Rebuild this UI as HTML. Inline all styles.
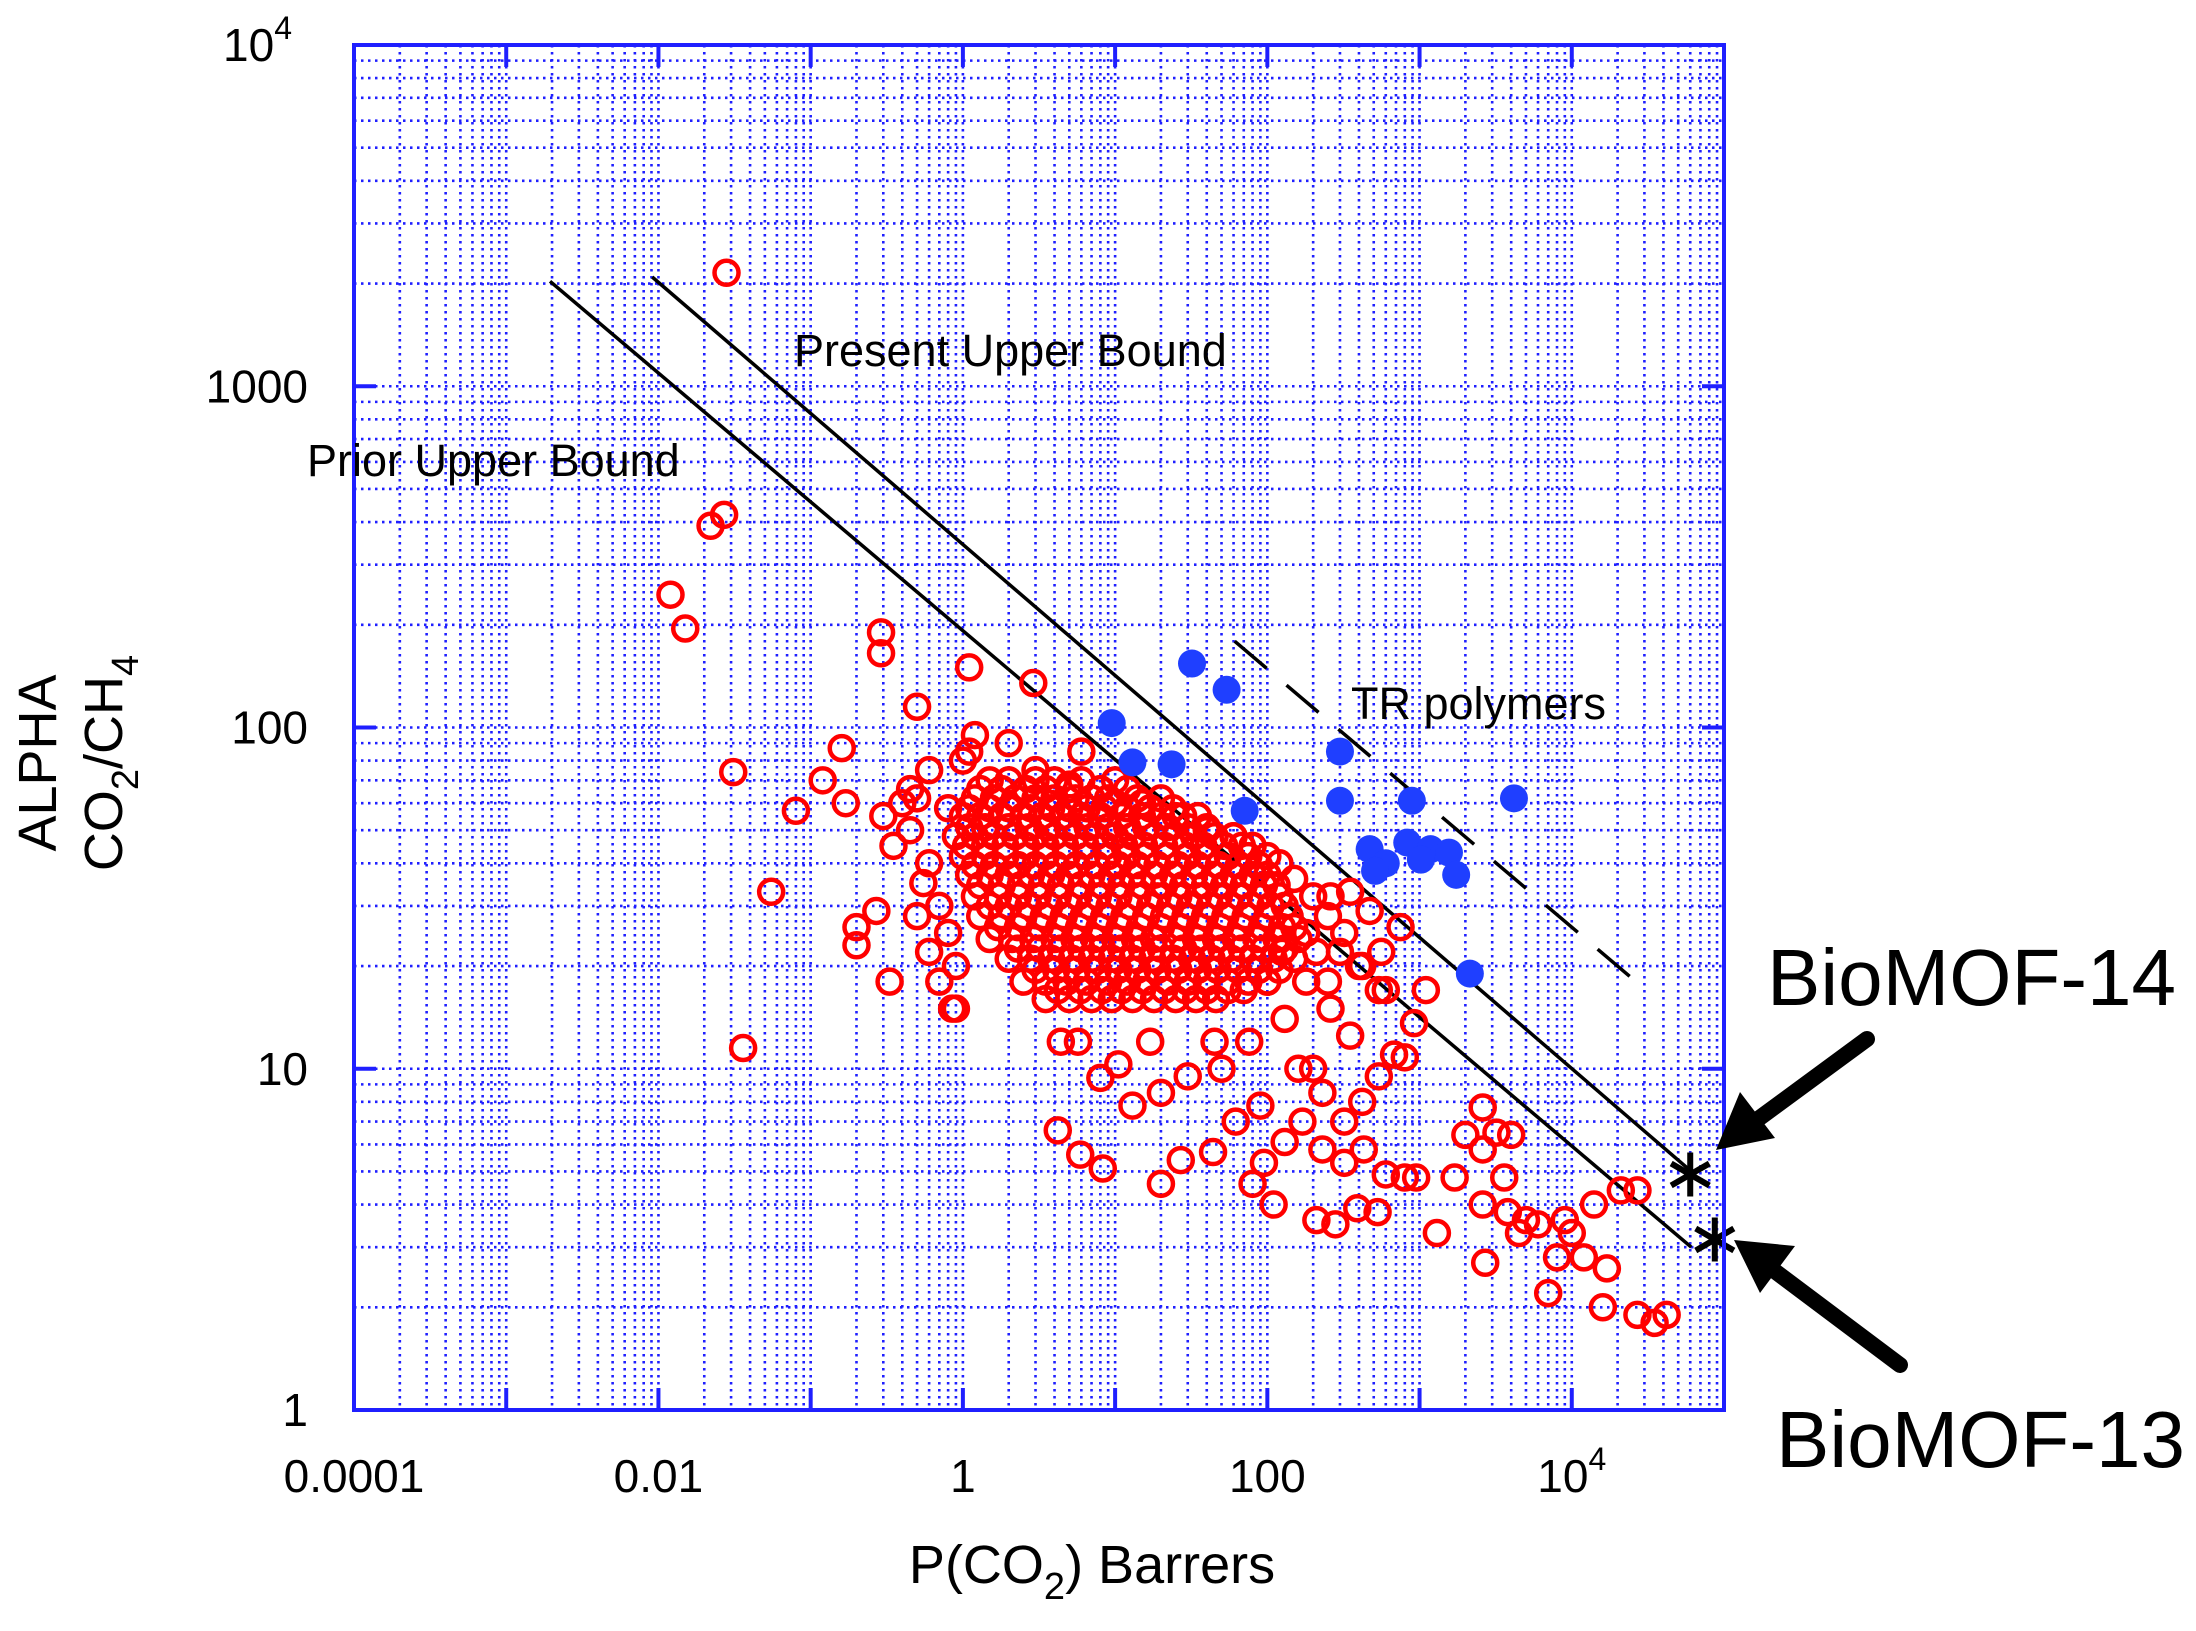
<!DOCTYPE html>
<html><head><meta charset="utf-8"><style>
html,body{margin:0;padding:0;background:#fff;}
svg{display:block;font-family:"Liberation Sans",sans-serif;}
</style></head><body>
<svg id="chart" width="2196" height="1631" viewBox="0 0 2196 1631">
<g id="grid"></g>
<g id="lines"></g>
<g id="red"></g>
<g id="blue"></g>
<g id="stars"></g>
<g id="axes"></g>
</svg>
<script>
const xTicks=[0.0001,0.01,1,100,10000];
const xTickLabels=["0.0001","0.01","1","100","10^4"];
const yTicks=[1,10,100,1000,10000];
const yTickLabels=["1","10","100","1000","10^4"];
const priorBoundX=[0.00194,61000];
const priorBoundY=[2030,3.0];
const presentBoundX=[0.0091,61000];
const presentBoundY=[2090,5.0];
const trBoundX=[61,26000];
const trBoundY=[179,18.1];
const blueX=[32,54,9.5,23.5,13,71,300,300,890,4170,470,600,510,830,1180,1560,1740,1020,2140];
const blueY=[154,129,103,78,79,57,85,61,61,62,44,40,38,46,44,43,37,41,19];
const starX=[60000,87000];
const starY=[4.9,3.16];
const redRows=[
[70,[1.5,2,3,4,6,10]],
[66,[1.3,1.8,2.6,3.5,5,8,12]],
[62,[1.2,1.6,2.2,3,4,5.5,7,9,14,20]],
[58,[1.1,1.5,2,2.8,3.8,5,6.5,8.5,12,17,24]],
[55,[1,1.3,1.8,2.5,3.3,4.5,6,8,11,15,20,28,35]],
[51,[1.1,1.4,2,2.7,3.6,4.9,6.6,9,12,16,22,30,40]],
[48,[0.9,1.2,1.6,2.2,3,4,5.5,7.5,10,13,18,25,33,45,60]],
[45,[1.05,1.4,1.9,2.6,3.5,4.7,6.4,8.7,11.5,15.5,21,29,38,52,68]],
[42,[1,1.4,1.9,2.6,3.5,4.8,6.5,9,12,16,22,30,40,55,75]],
[39.5,[1.2,1.6,2.3,3,4.1,5.6,7.6,10.5,14,19,26,35,48,65,88]],
[37,[1.1,1.5,2,2.8,3.8,5,7,9.5,13,18,24,33,45,60,80,100]],
[34.5,[1.3,1.8,2.4,3.3,4.4,6,8.2,11,15,21,28,39,52,70,95,115]],
[32,[1.2,1.7,2.3,3.1,4.2,5.7,7.7,10.5,14,19,26,35,48,65,90,120]],
[30,[1.5,2,2.7,3.7,5,6.8,9.2,12.5,17,23,31,42,57,78,105,130]],
[28,[1.3,1.8,2.5,3.4,4.6,6.2,8.5,11.5,16,21,29,39,53,72,100,140]],
[26,[1.7,2.3,3.2,4.3,5.8,7.9,10.7,14.5,20,27,36,49,67,92,125,150]],
[24,[1.5,2.1,2.9,4,5.4,7.3,10,13.5,18,25,34,46,62,85,115,160]],
[22.5,[2.3,3.2,4.4,6,8.2,11,15,20,28,37,50,68,95,130]],
[21,[2,2.8,3.8,5.2,7,9.5,13,17.5,24,32,43,58,80,110,150]],
[19.5,[3,4.1,5.6,7.7,10.5,14,19,26,35,47,64,88,120]],
[18,[2.5,3.5,4.8,6.5,9,12,16,22,30,40,55,75,100]],
[17,[4.2,5.9,8.2,11,15,21,29,40,55,70]],
[16,[3.5,5,7,9.5,13,18,25,34,46]]
];
const redX=[0.028,0.027,0.022,0.012,0.015,0.031,0.036,0.055,0.08,0.12,0.16,0.17,0.2,0.2,0.27,0.29,0.29,0.33,0.5,1.1,2.9,0.85,
4.4,4.2,5.9,8.3,20,27,44,80,110,210,280,390,530,1300,1700,2600,3600,2700,4500,6000,8000,7000,12000,17000,16000,27000,35000,42000,14000,21000,27000,2600,3800,5000,9000,10000,2600,2000,3200,4000,
100,130,200,230,320,420,540,680,800,350,260,180,125,210,320,420,540,920,1100,170,130,95,230,320,430,600,800,950,160,90,62,50,30,20,13,10.5,8,5.7,17,45,76,
260,350,470,560,750,
0.3,0.35,0.4,0.45,0.5,0.6,0.55,0.7,0.8,0.6,0.7,0.9,0.5,0.6,0.8,1,1.2,1.1,2,0.9,0.45,
3,5,6,10,15,25,40,60,80,100,120,150,200,250,180,300,400,600,250];
const redY=[2150,420,390,245,195,74,11.5,33,57,70,87,60,26,23,29,190,165,18,115,150,135,15,
12,6.6,5.6,5.1,4.6,5.4,5.7,4.6,4.0,3.6,3.5,3.9,3.8,3.3,4.8,5.8,4.8,2.7,3.3,3.5,2.8,2.2,2.8,2.6,2.0,1.9,1.8,1.9,4,4.4,4.4,4,3.8,3.6,3.6,3.3,7.7,6.4,6.5,6.4,
18,14,10,8.5,7,8,9.5,11,10.8,12.5,15,18,22,22,25,20,17,13.6,17,7.0,6.1,5.3,5.8,5.3,5.8,4.9,4.8,4.8,10,7.8,7,10,9.5,8.5,7.8,10.3,9.4,12,12,12,12,
32,33,29,22,26,
55,45,60,50,62,40,35,30,25,22,18,20,28,75,58,80,95,85,90,15,66,
75,68,85,60,60,55,50,48,45,42,40,36,32,28,25,22,20,17,18];

const L=354,R=1724,T=45,B=1410;
function sx(v){return L+(Math.log10(v)+4)*(R-L)/9;}
function sy(v){return B-Math.log10(v)*(B-T)/4;}
const NS="http://www.w3.org/2000/svg";
function mk(tag,attrs,parent){const e=document.createElementNS(NS,tag);for(const k in attrs)e.setAttribute(k,attrs[k]);parent.appendChild(e);return e;}
const grid=document.getElementById('grid');
for(let d=-4;d<5;d++){for(let k=1;k<10;k++){const v=k*Math.pow(10,d);if(k===1&&d===-4)continue;const x=sx(v);
const ln=mk('line',{x1:x,y1:T,x2:x,y2:B,stroke:'#1f1fff','stroke-width':2.6,'stroke-dasharray':'2.5 4.5'},grid);

}}
for(let d=0;d<4;d++){for(let k=1;k<10;k++){const v=k*Math.pow(10,d);if(k===1&&d===0)continue;const y=sy(v);
const ln=mk('line',{x1:L,y1:y,x2:R,y2:y,stroke:'#1f1fff','stroke-width':2.6,'stroke-dasharray':'2.5 4.5'},grid);

}}
const lines=document.getElementById('lines');
function bound(xs,ys,name,dash){const l=mk('line',{x1:sx(xs[0]),y1:sy(ys[0]),x2:sx(xs[1]),y2:sy(ys[1]),stroke:'#000','stroke-width':3.5},lines);
if(dash)l.setAttribute('stroke-dasharray','42 26');

}
bound(priorBoundX,priorBoundY,'prior-upper-bound-line',false);
bound(presentBoundX,presentBoundY,'present-upper-bound-line',false);
bound(trBoundX,trBoundY,'tr-polymers-bound-line',true);
const red=document.getElementById('red');
function redPt(x,y){const c=mk('circle',{cx:sx(x),cy:sy(y),r:12,fill:'none',stroke:'#ff0000','stroke-width':4.5},red);

}
redRows.forEach(([y,xs])=>xs.forEach(x=>redPt(x,y)));
redX.forEach((x,i)=>redPt(x,redY[i]));
const blue=document.getElementById('blue');
blueX.forEach((x,i)=>{const c=mk('circle',{cx:sx(x),cy:sy(blueY[i]),r:14,fill:'#1f3fff'},blue);

});
const stars=document.getElementById('stars');
starX.forEach((x,i)=>{const cx=sx(x),cy=sy(starY[i]);const g=mk('g',{},stars);


for(let a=0;a<3;a++){const ang=a*Math.PI/3+Math.PI/2;mk('line',{x1:cx-22*Math.cos(ang),y1:cy-22*Math.sin(ang),x2:cx+22*Math.cos(ang),y2:cy+22*Math.sin(ang),stroke:'#000','stroke-width':6},g);}});
const axes=document.getElementById('axes');
const fr=mk('rect',{x:L,y:T,width:R-L,height:B-T,fill:'none',stroke:'#1f1fff','stroke-width':4},axes);


for(let d=-4;d<=5;d++){const x=sx(Math.pow(10,d));mk('line',{x1:x,y1:B,x2:x,y2:B-22,stroke:'#1f1fff','stroke-width':4},axes);mk('line',{x1:x,y1:T,x2:x,y2:T+22,stroke:'#1f1fff','stroke-width':4},axes);}
for(let d=0;d<=4;d++){const y=sy(Math.pow(10,d));mk('line',{x1:L,y1:y,x2:L+22,y2:y,stroke:'#1f1fff','stroke-width':4},axes);mk('line',{x1:R,y1:y,x2:R-22,y2:y,stroke:'#1f1fff','stroke-width':4},axes);}
function tickText(lbl,x,y,anchor,name){const t=mk('text',{x:x,y:y,'font-size':46,'text-anchor':anchor,fill:'#000'},axes);


if(lbl.indexOf('^')>0){const p=lbl.split('^');t.appendChild(document.createTextNode(p[0]));const s=mk('tspan',{'font-size':32,dy:-22},t);s.textContent=p[1];}else t.textContent=lbl;}
xTicks.forEach((v,i)=>tickText(xTickLabels[i],sx(v),1492,'middle','x-tick-label'));
yTicks.forEach((v,i)=>tickText(yTickLabels[i],v===10000?292:308,sy(v)+16,'end','y-tick-label'));
</script>
<div style="position:absolute;left:0;top:0;width:2196px;height:1631px;pointer-events:none;">
<svg width="2196" height="1631" style="font-family:'Liberation Sans',sans-serif;">
<text x="1092" y="1583" font-size="54" text-anchor="middle">P(CO<tspan font-size="38" dy="16">2</tspan><tspan dy="-16">) Barrers</tspan></text>
<g transform="translate(56,763) rotate(-90)">
<text x="0" y="0" font-size="54" text-anchor="middle">ALPHA</text>
<text x="0" y="66" font-size="54" text-anchor="middle">CO<tspan font-size="38" dy="16">2</tspan><tspan dy="-16">/CH</tspan><tspan font-size="38" dy="16">4</tspan></text>
</g>
<text x="794" y="366" font-size="45">Present Upper Bound</text>
<text x="307" y="476" font-size="45">Prior Upper Bound</text>
<text x="1351" y="719" font-size="45">TR polymers</text>
<text x="1767" y="1005" font-size="80">BioMOF-14</text>
<text x="1776" y="1467" font-size="80">BioMOF-13</text>
<g>
<line x1="1867" y1="1039" x2="1750" y2="1125" stroke="#000" stroke-width="16" stroke-linecap="round"/>
<polygon points="1716,1150 1740,1092 1775,1138" fill="#000"/>
</g>
<g>
<line x1="1900" y1="1365" x2="1768" y2="1266" stroke="#000" stroke-width="16" stroke-linecap="round"/>
<polygon points="1734,1240 1795,1246 1760,1293" fill="#000"/>
</g>
</svg></div>
</body></html>
